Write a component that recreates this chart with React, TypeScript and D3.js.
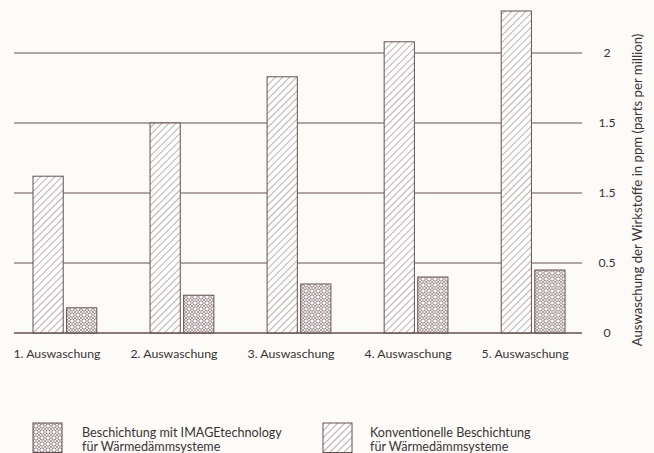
import React, { useEffect, useRef } from 'react';
import * as d3 from 'd3';

const categories = ['1. Auswaschung', '2. Auswaschung', '3. Auswaschung', '4. Auswaschung', '5. Auswaschung'];
const conventional = [1.12, 1.5, 1.83, 2.08, 2.3];
const imageTech = [0.18, 0.27, 0.35, 0.4, 0.45];
const tickValues = [0, 0.5, 1, 1.5, 2];
// the printed chart repeats "1.5" on the third line
const tickLabels = ['0', '0.5', '1.5', '1.5', '2'];
const seriesKeys = ['conventional', 'imageTech'];
const legendItems = [
    { key: 'imageTech', lines: ['Beschichtung mit IMAGEtechnology', 'für Wärmedämmsysteme'] },
    { key: 'conventional', lines: ['Konventionelle Beschichtung', 'für Wärmedämmsysteme'] },
];
const axisTitle = 'Auswaschung der Wirkstoffe in ppm (parts per million)';

const W = 654;
const H = 453;
const INK = '#655050';
const TEXT = '#3a3434';
const FONT = 'Lato, "Open Sans", sans-serif';

const App = () => {
    const svgRef = useRef<SVGSVGElement>(null);

    useEffect(() => {
        const svg = d3.select(svgRef.current);
        svg.selectAll('*').remove();

        const defs = svg.append('defs');
        const hatch = defs
            .append('pattern')
            .attr('id', 'hatch')
            .attr('patternUnits', 'userSpaceOnUse')
            .attr('width', 5)
            .attr('height', 5)
            .attr('patternTransform', 'rotate(45)');
        hatch.append('rect').attr('width', 5).attr('height', 5).attr('fill', '#fff');
        hatch.append('line').attr('x1', 0).attr('y1', 0).attr('x2', 0).attr('y2', 5).attr('stroke', INK).attr('stroke-width', 0.9);

        // circles in a diagonal lattice, like the printed screen
        const cross = defs
            .append('pattern')
            .attr('id', 'cross')
            .attr('patternUnits', 'userSpaceOnUse')
            .attr('width', 6)
            .attr('height', 6);
        cross.append('rect').attr('width', 6).attr('height', 6).attr('fill', '#fff');
        cross.append('path').attr('d', 'M0,0L6,6M6,0L0,6').attr('stroke', INK).attr('stroke-width', 0.55);
        cross.append('circle').attr('cx', 3).attr('cy', 3).attr('r', 2.2).attr('fill', '#fff').attr('stroke', INK).attr('stroke-width', 0.75);

        const fills: Record<string, string> = { conventional: 'url(#hatch)', imageTech: 'url(#cross)' };

        svg.append('rect').attr('width', W).attr('height', H).attr('fill', '#fcfbf8');

        const y = d3.scaleLinear().domain([0, 2]).range([333, 53]);
        const x = d3.scaleBand().domain(categories).range([33, 565]).paddingInner(0.455).paddingOuter(0);
        const xs = d3.scaleBand().domain(seriesKeys).range([0, x.bandwidth()]).paddingInner(0.1);

        // grid lines + right-hand tick labels
        tickValues.forEach((v, i) => {
            svg.append('line')
                .attr('x1', 14)
                .attr('x2', 582)
                .attr('y1', y(v))
                .attr('y2', y(v))
                .attr('stroke', INK)
                .attr('stroke-width', 1.2);
            svg.append('text')
                .attr('x', 607)
                .attr('y', y(v))
                .attr('dy', '0.35em')
                .attr('text-anchor', 'middle')
                .style('font-family', FONT)
                .style('font-size', '12.3px')
                .style('fill', TEXT)
                .text(tickLabels[i]);
        });

        const groups = svg
            .selectAll('g.grp')
            .data(categories)
            .enter()
            .append('g')
            .attr('class', 'grp')
            .attr('transform', (d) => `translate(${x(d)},0)`);

        groups
            .selectAll('rect')
            .data((d, i) => [
                { key: 'conventional', value: conventional[i] },
                { key: 'imageTech', value: imageTech[i] },
            ])
            .enter()
            .append('rect')
            .attr('x', (d) => xs(d.key) as number)
            .attr('y', (d) => y(d.value))
            .attr('width', xs.bandwidth())
            .attr('height', (d) => y(0) - y(d.value))
            .attr('fill', (d) => fills[d.key])
            .attr('stroke', INK)
            .attr('stroke-width', 1);

        // baseline redrawn on top of bars
        svg.append('line')
            .attr('x1', 14)
            .attr('x2', 582)
            .attr('y1', y(0))
            .attr('y2', y(0))
            .attr('stroke', INK)
            .attr('stroke-width', 1.2);

        groups
            .append('text')
            .attr('x', x.bandwidth() / 2 - 8)
            .attr('y', 358)
            .attr('text-anchor', 'middle')
            .style('font-family', FONT)
            .style('font-size', '12.3px')
            .style('fill', TEXT)
            .text((d) => d);

        svg.append('text')
            .attr('transform', `translate(642,190) rotate(-90)`)
            .attr('text-anchor', 'middle')
            .style('font-family', FONT)
            .style('font-size', '13.2px')
            .style('fill', TEXT)
            .text(axisTitle);

        const legendX = [33, 323];
        const legendTextX = [49, 47];
        legendItems.forEach((item, i) => {
            const g = svg.append('g').attr('transform', `translate(${legendX[i]},423)`);
            g.append('rect')
                .attr('width', 29)
                .attr('height', 29.5)
                .attr('fill', fills[item.key])
                .attr('stroke', INK)
                .attr('stroke-width', 1);
            item.lines.forEach((line, j) => {
                g.append('text')
                    .attr('x', legendTextX[i])
                    .attr('y', 13.5 + j * 14)
                    .style('font-family', FONT)
                    .style('font-size', '12.6px')
                    .style('fill', TEXT)
                    .text(line);
            });
        });
    }, []);

    return <svg ref={svgRef} width={W} height={H} style={{ position: 'absolute', left: 0, top: 0 }} />;
};

export default App;
